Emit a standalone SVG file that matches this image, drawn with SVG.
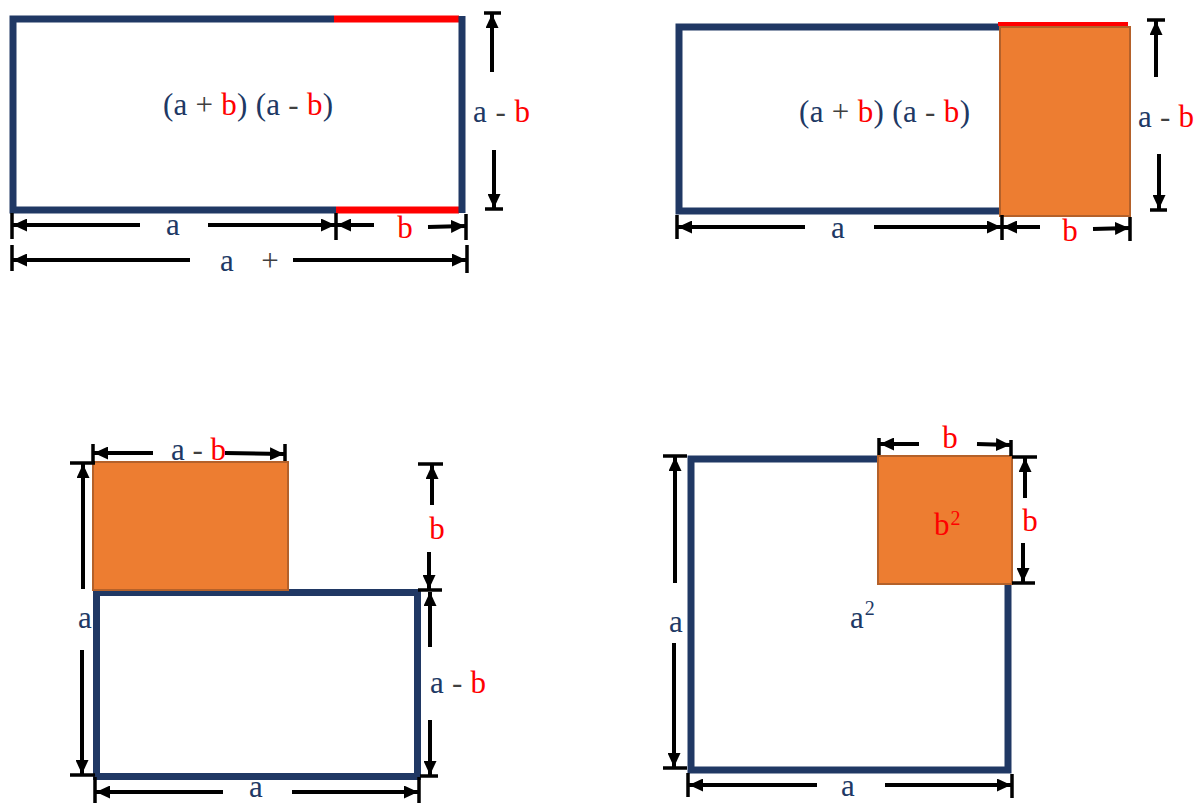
<svg xmlns="http://www.w3.org/2000/svg" width="1196" height="804" viewBox="0 0 1196 804">
<defs>
<style>
.nv{stroke:#203864;stroke-width:7;fill:none;stroke-linejoin:miter}
.rd{stroke:#FF0000;stroke-width:7}
.or{fill:#ED7D31;stroke:#B4612A;stroke-width:2}
.dm{stroke:#000;stroke-width:4;fill:none;marker-end:url(#ah)}
.tk{stroke:#000;stroke-width:3.5}
text{font-family:"Liberation Serif","Times New Roman",serif;font-size:31px;fill:#203864}
.r{fill:#FF0000}
.o{fill:#404040}
.sup{font-size:20px}
</style>
<marker id="ah" viewBox="0 0 14 13" refX="14" refY="6.5" markerWidth="14" markerHeight="13" markerUnits="userSpaceOnUse" orient="auto">
<path d="M0,0 L14,6.5 L0,13 z" fill="#000"/>
</marker>
</defs>
<rect width="1196" height="804" fill="#fff"/>

<!-- Panel 1 -->
<g id="p1-rect">
<path class="nv" d="M334,19 H13 V210 H336"/>
<line class="rd" x1="334" y1="19" x2="459" y2="19"/>
<line class="rd" x1="336" y1="210" x2="459" y2="210"/>
<line class="nv" x1="462" y1="16" x2="462" y2="213"/>
<text x="163" y="115" textLength="170" lengthAdjust="spacing">(a <tspan class="o">+</tspan> <tspan class="r">b</tspan>) (a <tspan class="o">-</tspan> <tspan class="r">b</tspan>)</text>
</g>
<g id="p1-labels">
<text x="473" y="122" textLength="57" lengthAdjust="spacing">a <tspan class="o">-</tspan> <tspan class="r">b</tspan></text>
<text x="173" y="235" text-anchor="middle">a</text>
<text class="r" x="405" y="238" text-anchor="middle">b</text>
<text x="227" y="271" text-anchor="middle">a<tspan class="o" x="270">+</tspan></text>
</g>

<!-- Panel 2 -->
<g id="p2-rect">
<path class="nv" d="M1000,27 H679 V211 H1000"/>
<line stroke="#FF0000" stroke-width="4" x1="998" y1="24" x2="1128" y2="24"/>
<rect class="or" x="1000" y="27" width="130" height="189"/>
<text x="799" y="122" textLength="171" lengthAdjust="spacing">(a <tspan class="o">+</tspan> <tspan class="r">b</tspan>) (a <tspan class="o">-</tspan> <tspan class="r">b</tspan>)</text>
</g>
<g id="p2-labels">
<text x="1138" y="127" textLength="56" lengthAdjust="spacing">a <tspan class="o">-</tspan> <tspan class="r">b</tspan></text>
<text x="838" y="238" text-anchor="middle">a</text>
<text class="r" x="1070" y="241" text-anchor="middle">b</text>
</g>

<!-- Panel 3 -->
<g id="p3-rect">
<rect class="nv" x="96.5" y="592.5" width="321" height="184"/>
<rect class="or" x="93" y="462" width="195" height="128"/>
</g>
<g id="p3-labels">
<text x="171" y="460" textLength="55" lengthAdjust="spacing">a <tspan class="o">-</tspan> <tspan class="r">b</tspan></text>
<text x="85" y="628" text-anchor="middle">a</text>
<text class="r" x="437" y="539" text-anchor="middle">b</text>
<text x="430" y="693" textLength="56" lengthAdjust="spacing">a <tspan class="o">-</tspan> <tspan class="r">b</tspan></text>
<text x="256" y="797" text-anchor="middle">a</text>
</g>

<!-- Panel 4 -->
<g id="p4-rect">
<path class="nv" d="M878,459 H691 V770 H1008 V583"/>
<rect class="or" x="878" y="456" width="134" height="128"/>
<text class="r" x="934" y="535">b<tspan class="sup" dx="1" dy="-10">2</tspan></text>
<text x="850" y="628">a<tspan class="sup" dx="1" dy="-13">2</tspan></text>
</g>
<g id="p4-labels">
<text class="r" x="950" y="448" text-anchor="middle">b</text>
<text class="r" x="1030" y="531" text-anchor="middle">b</text>
<text x="676" y="632" text-anchor="middle">a</text>
<text x="848" y="796" text-anchor="middle">a</text>
</g>

<g id="connectors">
<!-- panel 1 -->
<line class="tk" x1="484" y1="13" x2="501" y2="13"/>
<line class="dm" x1="492" y1="72" x2="492" y2="14"/>
<line class="dm" x1="494" y1="150" x2="494" y2="208"/>
<line class="tk" x1="485" y1="209" x2="503" y2="209"/>
<line class="tk" x1="12" y1="213" x2="12" y2="239"/>
<line class="dm" x1="140" y1="225" x2="13" y2="225"/>
<line class="dm" x1="208" y1="225" x2="335" y2="225"/>
<line class="tk" x1="336" y1="213" x2="336" y2="240"/>
<line class="dm" x1="374" y1="225" x2="337" y2="225"/>
<line class="dm" x1="428" y1="227" x2="465" y2="226"/>
<line class="tk" x1="466" y1="214" x2="466" y2="240"/>
<line class="tk" x1="12" y1="245" x2="12" y2="271"/>
<line class="dm" x1="190" y1="260" x2="13" y2="260"/>
<line class="dm" x1="293" y1="260" x2="466" y2="260"/>
<line class="tk" x1="467" y1="245" x2="467" y2="273"/>
<!-- panel 2 -->
<line class="tk" x1="1147" y1="20" x2="1165" y2="20"/>
<line class="dm" x1="1156" y1="77" x2="1156" y2="21"/>
<line class="dm" x1="1159" y1="154" x2="1159" y2="209"/>
<line class="tk" x1="1150" y1="210" x2="1167" y2="210"/>
<line class="tk" x1="677" y1="215" x2="677" y2="239"/>
<line class="dm" x1="805" y1="227" x2="678" y2="227"/>
<line class="dm" x1="874" y1="227" x2="1001" y2="227"/>
<line class="tk" x1="1002" y1="215" x2="1002" y2="240"/>
<line class="dm" x1="1040" y1="227" x2="1003" y2="227"/>
<line class="dm" x1="1093" y1="229" x2="1129" y2="228"/>
<line class="tk" x1="1130" y1="217" x2="1130" y2="241"/>
<!-- panel 3 -->
<line class="tk" x1="93" y1="444" x2="93" y2="462"/>
<line class="dm" x1="153" y1="453" x2="94" y2="453"/>
<line class="dm" x1="225" y1="453" x2="284" y2="454"/>
<line class="tk" x1="285" y1="444" x2="285" y2="461"/>
<line class="tk" x1="70" y1="463" x2="95" y2="463"/>
<line class="dm" x1="83" y1="589" x2="83" y2="464"/>
<line class="dm" x1="82" y1="650" x2="82" y2="774"/>
<line class="tk" x1="70" y1="775" x2="95" y2="775"/>
<line class="tk" x1="418" y1="464" x2="443" y2="464"/>
<line class="dm" x1="432" y1="505" x2="432" y2="465"/>
<line class="dm" x1="429" y1="552" x2="429" y2="589"/>
<line class="tk" x1="418" y1="590" x2="442" y2="590"/>
<line class="dm" x1="430" y1="647" x2="430" y2="592"/>
<line class="dm" x1="430" y1="720" x2="430" y2="775"/>
<line class="tk" x1="420" y1="776" x2="438" y2="776"/>
<line class="tk" x1="95" y1="777" x2="95" y2="803"/>
<line class="dm" x1="223" y1="792" x2="96" y2="792"/>
<line class="dm" x1="292" y1="792" x2="418" y2="792"/>
<line class="tk" x1="419" y1="777" x2="419" y2="803"/>
<!-- panel 4 -->
<line class="tk" x1="879" y1="438" x2="879" y2="455"/>
<line class="dm" x1="919" y1="444" x2="880" y2="444"/>
<line class="dm" x1="977" y1="444" x2="1010" y2="445"/>
<line class="tk" x1="1011" y1="440" x2="1011" y2="456"/>
<line class="tk" x1="1012" y1="457" x2="1037" y2="457"/>
<line class="dm" x1="1025" y1="498" x2="1025" y2="458"/>
<line class="dm" x1="1023" y1="543" x2="1023" y2="582"/>
<line class="tk" x1="1012" y1="583" x2="1035" y2="583"/>
<line class="tk" x1="663" y1="456" x2="687" y2="456"/>
<line class="dm" x1="675" y1="583" x2="675" y2="457"/>
<line class="dm" x1="674" y1="643" x2="674" y2="767"/>
<line class="tk" x1="663" y1="768" x2="687" y2="768"/>
<line class="tk" x1="688" y1="773" x2="688" y2="797"/>
<line class="dm" x1="817" y1="785" x2="689" y2="785"/>
<line class="dm" x1="885" y1="785" x2="1011" y2="785"/>
<line class="tk" x1="1012" y1="774" x2="1012" y2="798"/>
</g>
</svg>
